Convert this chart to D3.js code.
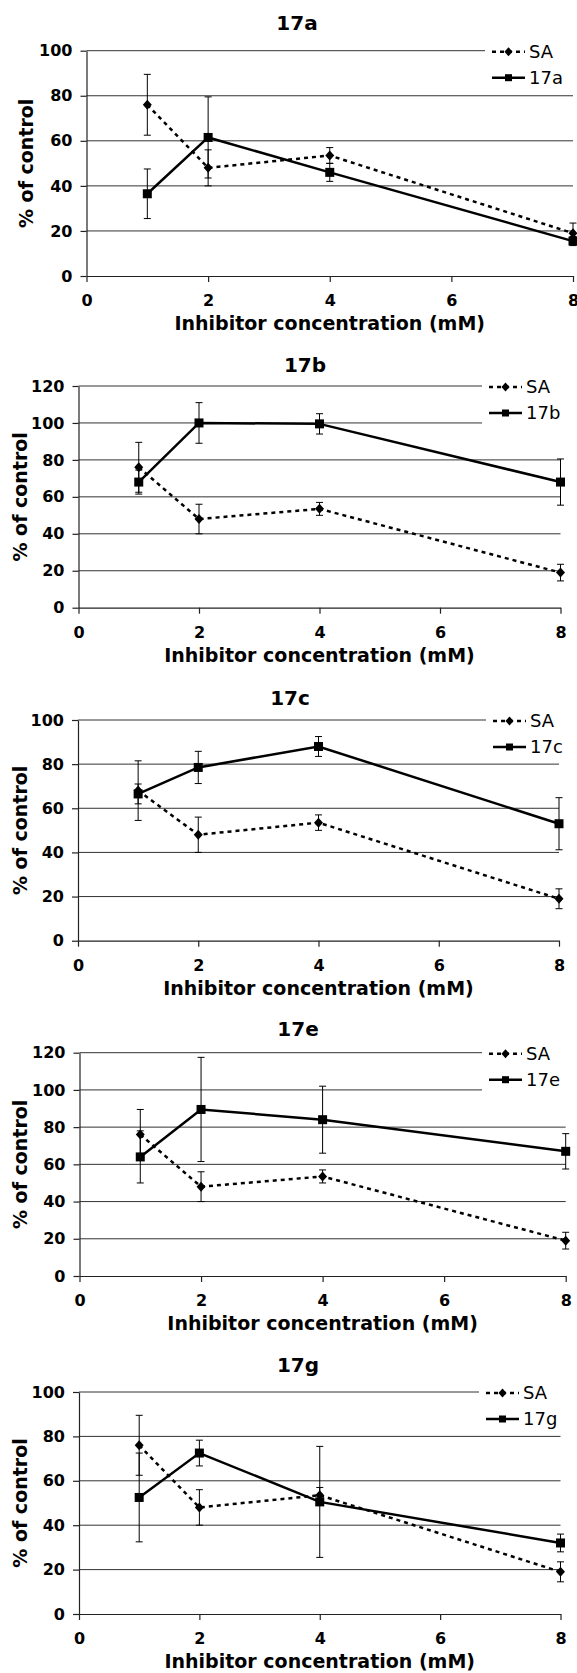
<!DOCTYPE html>
<html>
<head>
<meta charset="utf-8">
<script src="https://cdn.jsdelivr.net/npm/d3@7"></script>
<style>
  body { margin: 0; background: #fff; }
  svg text { font-family: "DejaVu Sans", Verdana, sans-serif; fill: #000; }
</style>
</head>
<body>
<div id="chart"></div>
<script>
// values
var concentrations = [1, 2, 4, 8];
var xTickValues = [0, 2, 4, 6, 8];
var compoundNames = ["17a", "17b", "17c", "17e", "17g"];
var yMaxes = [100, 120, 100, 120, 100];

var saValues = [
  [76, 48, 53.5, 19],
  [76, 48, 53.5, 19],
  [68, 48, 53.5, 19],
  [76, 48, 53.5, 19],
  [76, 48, 53.5, 19]
];
var saErrors = [13.5, 8, 3.5, 4.5];

var compoundValues = [
  [36.5, 61.5, 46, 15.5],
  [68, 100, 99.5, 68],
  [66.5, 78.5, 88, 53],
  [64, 89.5, 84, 67],
  [52.5, 72.5, 50.5, 32]
];
var compoundErrors = [
  [11, 18, 4, 2],
  [6.5, 11, 5.5, 12.5],
  [4.5, 7.3, 4.5, 11.8],
  [14, 28, 18, 9.5],
  [20, 5.8, 25, 4]
];

// where each panel sits on the page
var panels = [
  {left: 86.5, right: 573, top: 50.7, bottom: 276, titleX: 297, titleY: 23, yTitleX: 26, legendX: 529},
  {left: 78.5, right: 560.5, top: 386, bottom: 607.7, titleX: 305, titleY: 365, yTitleX: 20, legendX: 526},
  {left: 78, right: 559, top: 720, bottom: 940.7, titleX: 290, titleY: 698, yTitleX: 20, legendX: 530},
  {left: 79.5, right: 565.7, top: 1052.7, bottom: 1276, titleX: 298, titleY: 1029, yTitleX: 20, legendX: 526},
  {left: 79, right: 560.5, top: 1392, bottom: 1614, titleX: 298, titleY: 1365, yTitleX: 20, legendX: 523}
];

var width = 577, height = 1673;

var svg = d3.select("#chart").append("svg")
  .attr("width", width)
  .attr("height", height);

svg.append("rect").attr("width", width).attr("height", height).attr("fill", "#fff");

function diamond(cx, cy, r) {
  return "M" + cx + "," + (cy - r) + "L" + (cx + r * 0.9) + "," + cy +
         "L" + cx + "," + (cy + r) + "L" + (cx - r * 0.9) + "," + cy + "Z";
}

panels.forEach(function(p, i) {
  var xScale = d3.scaleLinear().domain([0, 8]).range([p.left, p.right]);
  var yScale = d3.scaleLinear().domain([0, yMaxes[i]]).range([p.bottom, p.top]);
  var yTicks = d3.range(0, yMaxes[i] + 1, 20);

  var g = svg.append("g");

  // gridlines
  g.append("g").selectAll("line")
    .data(yTicks.slice(1))
    .enter().append("line")
    .attr("x1", xScale(0)).attr("x2", xScale(8))
    .attr("y1", function(d) { return yScale(d); })
    .attr("y2", function(d) { return yScale(d); })
    .attr("stroke", "#333").attr("stroke-width", 1);

  // axes
  var yAxis = d3.axisLeft(yScale).tickValues(yTicks).tickSize(6).tickSizeOuter(0).tickPadding(8);
  var xAxis = d3.axisBottom(xScale).tickValues(xTickValues).tickSize(6).tickSizeOuter(0).tickPadding(13);

  var gy = g.append("g")
    .attr("transform", "translate(" + xScale(0) + ",0)")
    .call(yAxis);
  var gx = g.append("g")
    .attr("transform", "translate(0," + yScale(0) + ")")
    .call(xAxis);

  [gx, gy].forEach(function(a) {
    a.select(".domain").attr("stroke", "#222").attr("stroke-width", 1.2);
    a.selectAll(".tick line").attr("stroke", "#222").attr("stroke-width", 1.2);
    a.selectAll(".tick text")
      .attr("font-size", 16).attr("font-weight", "bold")
      .attr("font-family", "DejaVu Sans, Verdana, sans-serif").attr("fill", "#000");
  });

  // titles
  g.append("text")
    .attr("x", p.titleX).attr("y", p.titleY).attr("dy", "0.36em")
    .attr("text-anchor", "middle")
    .attr("font-size", 20).attr("font-weight", "bold")
    .text(compoundNames[i]);

  g.append("text")
    .attr("x", (p.left + p.right) / 2).attr("y", p.bottom + 47).attr("dy", "0.36em")
    .attr("text-anchor", "middle")
    .attr("font-size", 19).attr("font-weight", "bold")
    .text("Inhibitor concentration (mM)");

  g.append("text")
    .attr("transform", "translate(" + p.yTitleX + "," + (p.top + p.bottom) / 2 + ") rotate(-90)")
    .attr("dy", "0.36em")
    .attr("text-anchor", "middle")
    .attr("font-size", 19).attr("font-weight", "bold")
    .text("% of control");

  // legend
  var lg = g.append("g");
  lg.append("rect")
    .attr("x", p.legendX - 44).attr("y", p.top - 13)
    .attr("width", width - (p.legendX - 44)).attr("height", 52)
    .attr("fill", "#fff");
  var entries = [
    {name: "SA", dash: "4,4", marker: "diamond"},
    {name: compoundNames[i], dash: null, marker: "square"}
  ];
  entries.forEach(function(e, k) {
    var ly = p.top + 1 + k * 26;
    lg.append("line")
      .attr("x1", p.legendX - 37).attr("x2", p.legendX - 4)
      .attr("y1", ly).attr("y2", ly)
      .attr("stroke", "#000").attr("stroke-width", 2.5)
      .attr("stroke-dasharray", e.dash);
    var mx = p.legendX - 20.5;
    if (e.marker === "diamond") {
      lg.append("path").attr("d", diamond(mx, ly, 4.5)).attr("fill", "#000");
    } else {
      lg.append("rect").attr("x", mx - 3.5).attr("y", ly - 3.5)
        .attr("width", 7).attr("height", 7).attr("fill", "#000");
    }
    lg.append("text")
      .attr("x", p.legendX).attr("y", ly).attr("dy", "0.36em")
      .attr("font-size", 18)
      .text(e.name);
  });

  // series
  var series = [
    {values: saValues[i], errors: saErrors, dash: "4,4", marker: "diamond"},
    {values: compoundValues[i], errors: compoundErrors[i], dash: null, marker: "square"}
  ];

  series.forEach(function(s) {
    var pts = concentrations.map(function(c, j) {
      return {x: c, y: s.values[j], e: s.errors[j]};
    });

    var eb = g.append("g");
    eb.selectAll("line.v").data(pts).enter().append("line")
      .attr("x1", function(d) { return xScale(d.x); })
      .attr("x2", function(d) { return xScale(d.x); })
      .attr("y1", function(d) { return yScale(d.y - d.e); })
      .attr("y2", function(d) { return yScale(d.y + d.e); })
      .attr("stroke", "#000").attr("stroke-width", 1);
    [-1, 1].forEach(function(sign) {
      eb.selectAll(null).data(pts).enter().append("line")
        .attr("x1", function(d) { return xScale(d.x) - 3.5; })
        .attr("x2", function(d) { return xScale(d.x) + 3.5; })
        .attr("y1", function(d) { return yScale(d.y + sign * d.e); })
        .attr("y2", function(d) { return yScale(d.y + sign * d.e); })
        .attr("stroke", "#000").attr("stroke-width", 1);
    });

    var line = d3.line()
      .x(function(d) { return xScale(d.x); })
      .y(function(d) { return yScale(d.y); });

    g.append("path")
      .datum(pts)
      .attr("d", line)
      .attr("fill", "none")
      .attr("stroke", "#000")
      .attr("stroke-width", 2.5)
      .attr("stroke-dasharray", s.dash);

    if (s.marker === "diamond") {
      g.append("g").selectAll("path").data(pts).enter().append("path")
        .attr("d", function(d) { return diamond(xScale(d.x), yScale(d.y), 5); })
        .attr("fill", "#000");
    } else {
      g.append("g").selectAll("rect").data(pts).enter().append("rect")
        .attr("x", function(d) { return xScale(d.x) - 4.5; })
        .attr("y", function(d) { return yScale(d.y) - 4.5; })
        .attr("width", 9).attr("height", 9)
        .attr("fill", "#000");
    }
  });
});
</script>
</body>
</html>
